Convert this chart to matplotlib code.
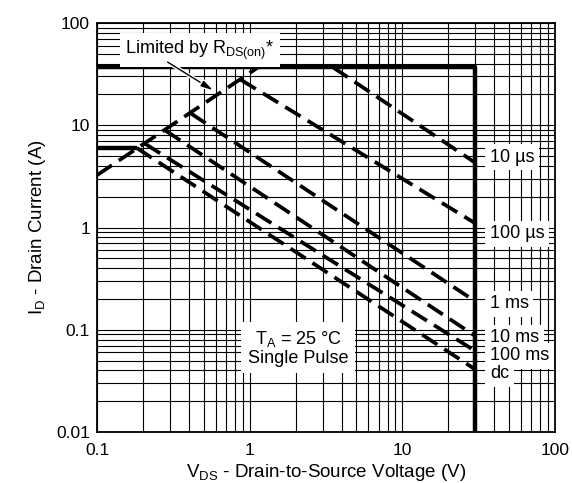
import numpy as np
import matplotlib
matplotlib.use("Agg")
import matplotlib.pyplot as plt
from matplotlib.ticker import LogLocator, FixedLocator, FixedFormatter, NullFormatter
import matplotlib.patheffects as pe

plt.rcParams['font.family'] = ['Liberation Sans', 'DejaVu Sans']
plt.rcParams['mathtext.fontset'] = 'custom'
plt.rcParams['mathtext.rm'] = 'Liberation Sans'
plt.rcParams['mathtext.it'] = 'Liberation Sans:italic'

# ---- data ----
limit_v = [0.1, 30, 30]
limit_i = [37, 37, 0.01]
dc_flat_v = [0.1, 0.182]
dc_flat_i = [6.0, 6.0]
rds_v = [0.1, 1.14]
rds_i = [3.25, 37]

pulse_labels = ["10 µs", "100 µs", "1 ms", "10 ms", "100 ms", "dc"]
pulse_v = [[3.5, 30], [0.87, 30], [0.41, 30], [0.28, 30], [0.206, 30], [0.182, 30]]
pulse_i = [[37, 4.3], [28, 1.1], [13.1, 0.19], [8.9, 0.087], [6.6, 0.062], [6.0, 0.041]]

x_ticks = [0.1, 1, 10, 100]
x_tick_labels = ["0.1", "1", "10", "100"]
y_ticks = [0.01, 0.1, 1, 10, 100]
y_tick_labels = ["0.01", "0.1", "1", "10", "100"]

# ---- figure ----
fig = plt.figure(figsize=(5.72, 4.83), dpi=100)
ax = fig.add_axes([97/572, 1-432/483, (555-97)/572, (432-23)/483])
ax.set_xscale('log')
ax.set_yscale('log')
ax.set_xlim(0.1, 100)
ax.set_ylim(0.01, 100)

ax.xaxis.set_major_locator(FixedLocator(x_ticks))
ax.xaxis.set_major_formatter(FixedFormatter(x_tick_labels))
ax.yaxis.set_major_locator(FixedLocator(y_ticks))
ax.yaxis.set_major_formatter(FixedFormatter(y_tick_labels))
ax.xaxis.set_minor_locator(LogLocator(base=10, subs=np.arange(2, 10), numticks=50))
ax.yaxis.set_minor_locator(LogLocator(base=10, subs=np.arange(2, 10), numticks=50))
ax.xaxis.set_minor_formatter(NullFormatter())
ax.yaxis.set_minor_formatter(NullFormatter())
ax.tick_params(which='both', length=0, labelsize=12.5, colors='black')
ax.tick_params(axis='y', pad=5)
ax.tick_params(axis='x', pad=8)
ax.grid(which='both', color='black', lw=0.8)
ax.set_axisbelow(True)
for s in ax.spines.values():
    s.set_linewidth(1.3)

# SOA boundary
ax.plot(limit_v, limit_i, color='black', lw=3.2, solid_capstyle='butt', zorder=4)
ax.plot(dc_flat_v, dc_flat_i, color='black', lw=3.2, solid_capstyle='butt', zorder=4)
ax.plot(rds_v, rds_i, color='black', lw=2.7, dashes=(4.8, 2.2), zorder=4)
for v, i in zip(pulse_v, pulse_i):
    ax.plot(v, i, color='black', lw=2.7, dashes=(4.8, 2.2), zorder=4)

# curve labels
label_y = [4.85, 0.873, 0.18, 0.0835, 0.0556, 0.037]
for lab, ly in zip(pulse_labels, label_y):
    ax.text(37.5, ly, lab, fontsize=13, va='center', ha='left', zorder=5,
            bbox=dict(boxstyle='square,pad=0.25', fc='white', ec='none'))

# Limited by RDS(on)
ax.text(0.225, 0.933, r"Limited by $\mathregular{R_{DS(on)}}$*", transform=ax.transAxes,
        fontsize=13, ha='center', va='center', zorder=5,
        bbox=dict(boxstyle='square,pad=0.3', fc='white', ec='none'))
ann = ax.annotate("", xy=(0.575, 22), xytext=(0.29, 41.5),
                  arrowprops=dict(arrowstyle='-|>,head_length=0.7,head_width=0.18',
                                  color='black', lw=1.0, shrinkA=0, shrinkB=0),
                  zorder=6)
ann.arrow_patch.set_path_effects([pe.Stroke(linewidth=3.0, foreground='white'), pe.Normal()])

# TA box
ax.text(0.439, 0.205, "$\\mathregular{T_A}$ = 25 °C\nSingle Pulse", transform=ax.transAxes,
        fontsize=13, ha='center', va='center', linespacing=1.05, zorder=5,
        bbox=dict(boxstyle='square,pad=0.35', fc='white', ec='none'))

ax.set_xlabel(r"$\mathregular{V_{DS}}$ - Drain-to-Source Voltage (V)", fontsize=13.5, labelpad=3)
ax.set_ylabel(r"$\mathregular{I_D}$ - Drain Current (A)", fontsize=13.5, labelpad=6)

fig.savefig("out.png", dpi=100)
